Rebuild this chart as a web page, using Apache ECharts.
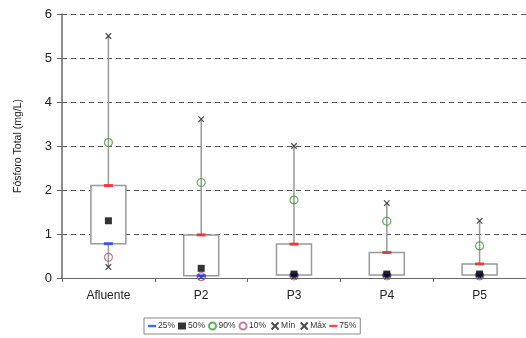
<!DOCTYPE html>
<html><head><meta charset="utf-8">
<script src="https://cdn.jsdelivr.net/npm/echarts@6/dist/echarts.min.js"></script>
<style>html,body{margin:0;padding:0;background:#fff}#c{width:526px;height:338px}</style>
</head><body><div id="c"></div>
<script>
const categories = ['Afluente', 'P2', 'P3', 'P4', 'P5'];
const minVals = [0.25, 0.02, 0.03, 0.03, 0.03];
const p10 = [0.47, 0.03, 0.05, 0.05, 0.05];
const p25 = [0.78, 0.05, 0.07, 0.07, 0.07];
const p50 = [1.30, 0.22, 0.09, 0.09, 0.09];
const p75 = [2.10, 0.98, 0.77, 0.58, 0.32];
const p90 = [3.08, 2.17, 1.77, 1.29, 0.73];
const maxVals = [5.50, 3.61, 3.00, 1.70, 1.30];
const yTicks = [0, 1, 2, 3, 4, 5, 6];

const XPATH = 'path://M0,0L10,10M10,0L0,10';
const BAR = 'path://M0,0h10v3h-10z';
const chart = echarts.init(document.getElementById('c'));
const boxData = categories.map((c, i) => [i, minVals[i], p25[i], p75[i], maxVals[i]]);
const font = 'Liberation Sans, Arial, sans-serif';

chart.setOption({
  animation: false,
  grid: { left: 62, top: 14, width: 468, height: 264 },
  legend: {
    left: 144, top: 318, padding: [2, 4], itemGap: 3, itemWidth: 8, itemHeight: 7,
    borderColor: '#888', borderWidth: 1, backgroundColor: '#fff',
    textStyle: { fontSize: 8.5, color: '#333', fontFamily: font, padding: [0, 0, 0, -3] },
    data: [
      { name: '25%', icon: BAR },
      { name: '50%', icon: 'rect' },
      { name: '90%' }, { name: '10%' },
      { name: 'Mín' }, { name: 'Máx' },
      { name: '75%', icon: BAR }
    ]
  },
  xAxis: {
    type: 'category', data: categories,
    axisLine: { lineStyle: { color: '#666', width: 1 } },
    axisTick: { show: true, length: 4, lineStyle: { color: '#666' } },
    axisLabel: { fontSize: 12, color: '#222', fontFamily: font, margin: 12 }
  },
  yAxis: {
    type: 'value', min: 0, max: 6, interval: 1,
    name: 'Fósforo Total (mg/L)', nameLocation: 'middle', nameGap: 38, nameRotate: 90,
    nameTextStyle: { fontSize: 10.5, color: '#222', fontFamily: font },
    axisLine: { show: true, lineStyle: { color: '#666', width: 1.5 } },
    axisTick: { show: true, length: 5, lineStyle: { color: '#666' } },
    axisLabel: { fontSize: 13, color: '#222', fontFamily: font, margin: 10,
      formatter: v => yTicks.includes(v) ? String(v) : '' },
    splitLine: { lineStyle: { color: '#555', type: [5, 4], width: 1 } }
  },
  series: [
    {
      type: 'custom', name: 'box', z: 2,
      data: boxData,
      renderItem: (params, api) => {
        const x = api.value(0);
        const pMin = api.coord([x, api.value(1)]);
        const pQ1 = api.coord([x, api.value(2)]);
        const pQ3 = api.coord([x, api.value(3)]);
        const pMax = api.coord([x, api.value(4)]);
        const w = 35;
        return {
          type: 'group',
          children: [
            { type: 'line', shape: { x1: pMax[0], y1: pMax[1], x2: pMin[0], y2: pMin[1] },
              style: { stroke: '#999', lineWidth: 1.5 } },
            { type: 'rect', shape: { x: pQ3[0] - w / 2, y: pQ3[1], width: w, height: pQ1[1] - pQ3[1] },
              style: { fill: '#fff', stroke: '#999', lineWidth: 1.5 } }
          ]
        };
      }
    },
    { type: 'scatter', name: 'Mín', data: minVals, symbol: XPATH, symbolSize: 5.5, z: 3,
      itemStyle: { color: 'none', borderColor: '#222', borderWidth: 1.2 } },
    { type: 'scatter', name: 'Máx', data: maxVals, symbol: XPATH, symbolSize: 5.5, z: 3,
      itemStyle: { color: 'none', borderColor: '#222', borderWidth: 1.2 } },
    { type: 'scatter', name: '10%', data: p10, symbol: 'circle', symbolSize: 8, z: 4,
      itemStyle: { color: 'rgba(0,0,0,0)', borderColor: '#b06080', borderWidth: 1.2 } },
    { type: 'scatter', name: '90%', data: p90, symbol: 'circle', symbolSize: 8, z: 4,
      itemStyle: { color: 'rgba(0,0,0,0)', borderColor: '#3a9a3a', borderWidth: 1.2 } },
    { type: 'scatter', name: '25%', data: p25, symbol: 'rect', symbolSize: [9, 3], z: 5,
      itemStyle: { color: '#1f3cff' } },
    { type: 'scatter', name: '75%', data: p75, symbol: 'rect', symbolSize: [9, 3], z: 5,
      itemStyle: { color: '#ff1a1a' } },
    { type: 'scatter', name: '50%', data: p50, symbol: 'rect', symbolSize: 7, z: 6,
      itemStyle: { color: '#000' } }
  ]
});
</script></body></html>
